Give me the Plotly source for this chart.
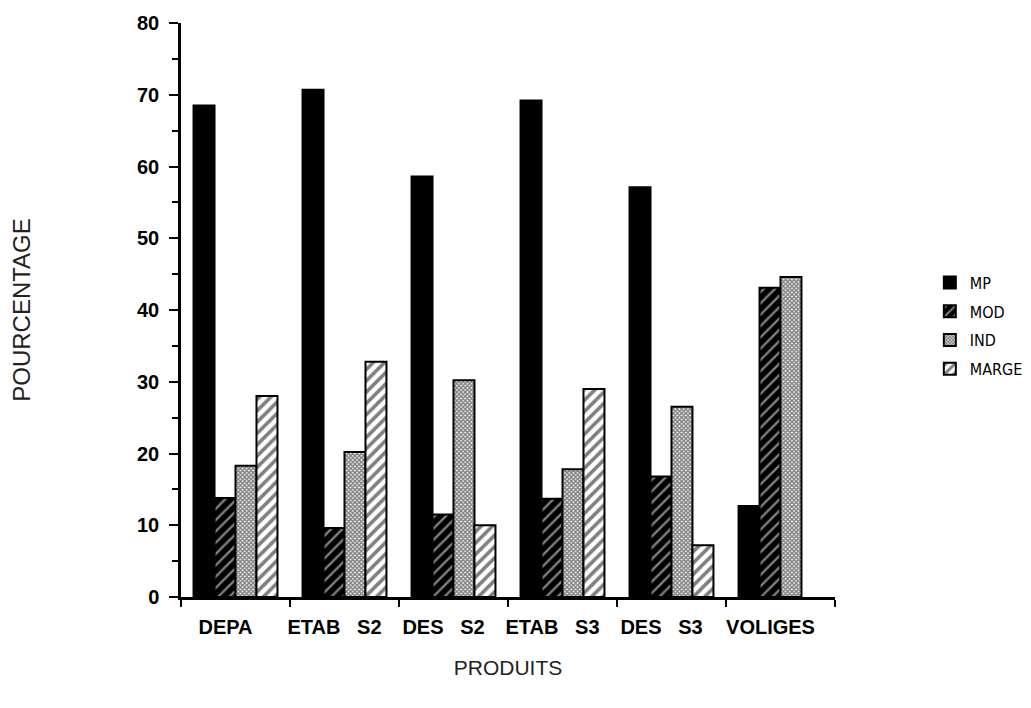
import plotly.graph_objects as go

categories = ["DEPA", "ETAB S2", "DES S2", "ETAB S3", "DES S3", "VOLIGES"]
tick_labels = ["DEPA", "ETAB   S2", "DES   S2", "ETAB   S3", "DES   S3", "VOLIGES"]
mp = [68.5, 70.7, 58.6, 69.2, 57.1, 12.7]
mod = [13.8, 9.6, 11.5, 13.7, 16.8, 43.1]
ind = [18.3, 20.2, 30.2, 17.8, 26.5, 44.6]
marge = [28.0, 32.8, 10.0, 29.0, 7.2, None]
y_ticks = [0, 10, 20, 30, 40, 50, 60, 70, 80]

fig = go.Figure()
line = dict(color="black", width=2)
fig.add_trace(go.Bar(name="MP", x=categories, y=mp, legendgroup="MP",
                     marker=dict(color="black", line=line)))
fig.add_trace(go.Bar(name="MOD", x=categories, y=mod, legendgroup="MOD",
                     marker=dict(color="black", line=line,
                                 pattern=dict(shape="/", fgcolor="white", size=8,
                                              solidity=0.3, fillmode="overlay"))))
fig.add_trace(go.Bar(name="IND", x=categories, y=ind, legendgroup="IND",
                     marker=dict(color="white", line=line,
                                 pattern=dict(shape="x", fgcolor="black", size=3,
                                              solidity=0.7, fillmode="overlay"))))
fig.add_trace(go.Bar(name="MARGE", x=categories, y=marge, legendgroup="MARGE",
                     marker=dict(color="white", line=line,
                                 pattern=dict(shape="/", fgcolor="black", size=8,
                                              solidity=0.45, fillmode="overlay"))))

bold = dict(family="Liberation Sans", size=20, color="black", weight="bold")

fig.update_layout(
    width=1023, height=700,
    barmode="group", bargap=0.23, bargroupgap=0,
    plot_bgcolor="white", paper_bgcolor="white",
    margin=dict(l=173, r=196, t=15, b=111, autoexpand=False),
    showlegend=True,
    legend=dict(x=1.145, y=0.472, xanchor="left", yanchor="middle",
                font=dict(family="DejaVu Sans Condensed, Liberation Sans Narrow, Liberation Sans",
                          size=16, color="black"),
                tracegroupgap=5, itemwidth=30),
    xaxis=dict(
        tickmode="array", tickvals=categories, ticktext=tick_labels,
        tickson="boundaries", ticks="outside", ticklen=7, tickwidth=2, tickcolor="black",
        showline=True, linecolor="black", linewidth=2.5, showgrid=False,
        tickfont=bold, ticklabelshift=-10, ticklabelstandoff=10,
        title=dict(text="PRODUITS", standoff=24,
                   font=dict(family="Liberation Sans", size=21, color="#222")),
    ),
    yaxis=dict(
        range=[0, 80], tickvals=y_ticks,
        ticks="outside", ticklen=9, tickwidth=2, tickcolor="black",
        minor=dict(dtick=5, ticks="outside", ticklen=6, tickwidth=2, tickcolor="black", showgrid=False),
        showline=True, linecolor="black", linewidth=2.5, showgrid=False, zeroline=False,
        tickfont=bold, ticklabelstandoff=6,
        title=dict(text="POURCENTAGE", standoff=110,
                   font=dict(family="Liberation Sans", size=24, color="#222")),
    ),
)

fig.write_html("out.html")
